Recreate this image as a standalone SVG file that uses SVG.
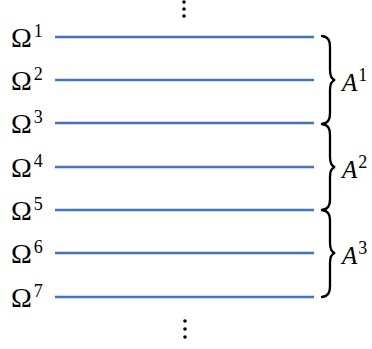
<svg xmlns="http://www.w3.org/2000/svg" width="372" height="349" viewBox="0 0 372 349">
<style>
.ln{stroke:#4472C4;stroke-width:2.5;fill:none}
.br{stroke:#000;stroke-width:2.3;fill:none;stroke-linecap:round}
.om{font-family:"Liberation Serif","DejaVu Serif",serif;font-size:28px;fill:#000}
.sup{font-size:18px}
.a{font-family:"Liberation Serif","DejaVu Serif",serif;font-size:25px;font-style:italic;fill:#000}
.as{font-size:18px;font-style:normal}
</style>
<rect width="372" height="349" fill="#fff"/>
<g id="dots-top" fill="#000"><circle cx="184" cy="2" r="1.8"/><circle cx="184" cy="9" r="1.8"/><circle cx="184" cy="16" r="1.8"/></g>
<g id="dots-bottom" fill="#000"><circle cx="185" cy="321" r="1.8"/><circle cx="185" cy="329" r="1.8"/><circle cx="185" cy="337" r="1.8"/></g>
<g id="connectors">
<line class="ln" x1="55" y1="37" x2="314" y2="37"/>
<line class="ln" x1="55" y1="80" x2="314" y2="80"/>
<line class="ln" x1="55" y1="123" x2="314" y2="123"/>
<line class="ln" x1="55" y1="167" x2="314" y2="167"/>
<line class="ln" x1="55" y1="210" x2="314" y2="210"/>
<line class="ln" x1="55" y1="253" x2="314" y2="253"/>
<line class="ln" x1="55" y1="297" x2="314" y2="297"/>
</g>
<g id="omega1"><text class="om" x="11" y="47">Ω<tspan class="sup" dx="2" dy="-10">1</tspan></text></g>
<g id="omega2"><text class="om" x="11" y="90">Ω<tspan class="sup" dx="2" dy="-10">2</tspan></text></g>
<g id="omega3"><text class="om" x="11" y="133">Ω<tspan class="sup" dx="2" dy="-10">3</tspan></text></g>
<g id="omega4"><text class="om" x="11" y="177">Ω<tspan class="sup" dx="2" dy="-10">4</tspan></text></g>
<g id="omega5"><text class="om" x="11" y="220">Ω<tspan class="sup" dx="2" dy="-10">5</tspan></text></g>
<g id="omega6"><text class="om" x="11" y="263">Ω<tspan class="sup" dx="2" dy="-10">6</tspan></text></g>
<g id="omega7"><text class="om" x="11" y="307">Ω<tspan class="sup" dx="2" dy="-10">7</tspan></text></g>
<g id="brace1"><path class="br" d="M322,36 C328,37 330,40 330,47 L330,70 C330,76 331,79 335,80 C331,81 330,84 330,90 L330,113 C330,120 328,123 322,124"/>
<text class="a" x="342" y="91">A<tspan class="as" dx="1" dy="-10">1</tspan></text></g>
<g id="brace2"><path class="br" d="M322,124 C328,125 330,128 330,135 L330,157 C330,163 331,166 335,167 C331,168 330,171 330,177 L330,199 C330,206 328,209 322,210"/>
<text class="a" x="342" y="178">A<tspan class="as" dx="1" dy="-10">2</tspan></text></g>
<g id="brace3"><path class="br" d="M322,210 C328,211 330,214 330,221 L330,243 C330,249 331,252 335,253 C331,254 330,257 330,263 L330,286 C330,293 328,296 322,297"/>
<text class="a" x="342" y="264">A<tspan class="as" dx="1" dy="-10">3</tspan></text></g>
</svg>
